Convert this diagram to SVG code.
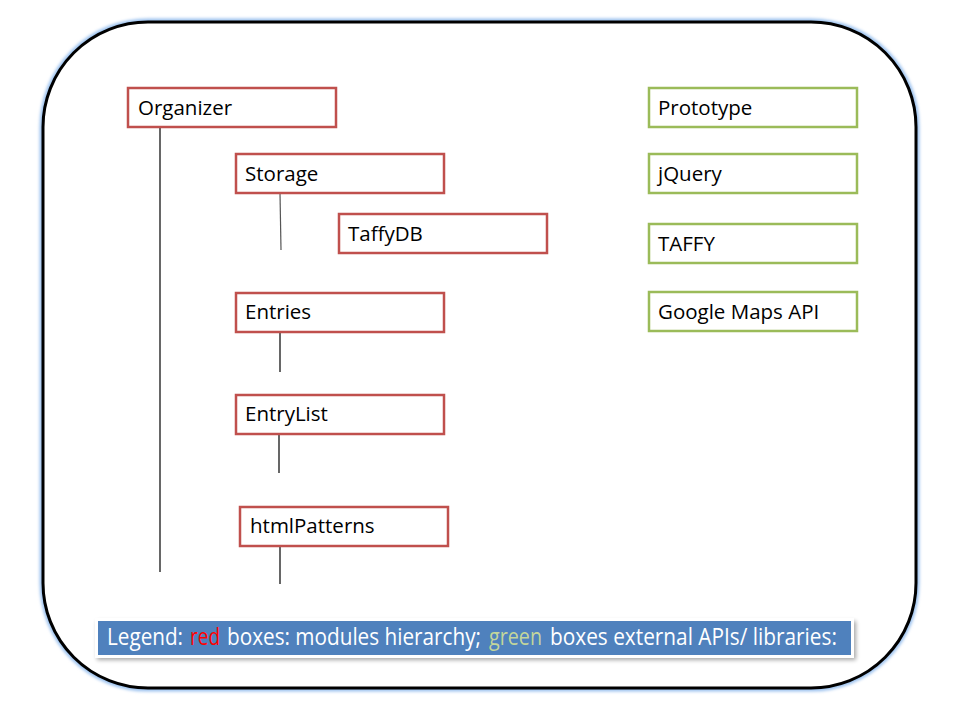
<svg xmlns="http://www.w3.org/2000/svg" width="960" height="720" viewBox="0 0 960 720">
<defs>
<filter id="glow" x="-5%" y="-5%" width="110%" height="110%"><feGaussianBlur stdDeviation="1.5"/></filter>
<filter id="shadow" x="-5%" y="-30%" width="110%" height="160%"><feGaussianBlur stdDeviation="2"/></filter>
</defs>
<style>
.mod rect{fill:#fff;stroke:#C0504D;stroke-width:2.5}
.lib rect{fill:#fff;stroke:#9BBB59;stroke-width:2.5}
text{font-family:"Open Sans","Liberation Sans",sans-serif;font-size:20.5px;fill:#000}
.conn line{stroke:#000;stroke-width:1.2}
.leg{font-family:"Open Sans","Liberation Sans",sans-serif;font-size:23px;fill:#fff}
</style>
<rect width="960" height="720" fill="#fff"/>
<rect x="43" y="22" width="873" height="666" rx="105" ry="105" fill="none" stroke="#9CC2EF" stroke-width="7" filter="url(#glow)"/>
<rect x="43" y="22" width="873" height="666" rx="105" ry="105" fill="#fff" stroke="#000" stroke-width="3"/>
<g class="conn">
<line x1="160" y1="128" x2="160" y2="572"/>
<line x1="280" y1="193" x2="281" y2="250" style="stroke:#555"/>
<line x1="280" y1="332" x2="280" y2="372"/>
<line x1="279" y1="434" x2="279" y2="473"/>
<line x1="280" y1="546" x2="280" y2="584"/>
</g>
<g id="organizer" class="mod"><rect x="128" y="88" width="208" height="39"/><text x="138" y="115">Organizer</text></g>
<g id="storage" class="mod"><rect x="236" y="154" width="208" height="39"/><text x="245" y="181">Storage</text></g>
<g id="taffydb" class="mod"><rect x="339" y="214" width="208" height="39"/><text x="348" y="241">TaffyDB</text></g>
<g id="entries" class="mod"><rect x="236" y="293" width="208" height="39"/><text x="245" y="319">Entries</text></g>
<g id="entrylist" class="mod"><rect x="236" y="395" width="208" height="39"/><text x="245" y="421">EntryList</text></g>
<g id="htmlpatterns" class="mod"><rect x="240" y="507" width="208" height="39"/><text x="250" y="533">htmlPatterns</text></g>
<g id="prototype" class="lib"><rect x="649" y="88" width="208" height="39"/><text x="658" y="115">Prototype</text></g>
<g id="jquery" class="lib"><rect x="649" y="154" width="208" height="39"/><text x="658" y="181">jQuery</text></g>
<g id="taffy" class="lib"><rect x="649" y="224" width="208" height="39"/><text x="658" y="251">TAFFY</text></g>
<g id="googlemaps" class="lib"><rect x="649" y="292" width="208" height="39"/><text x="658" y="319">Google Maps API</text></g>
<g id="legend">
<rect x="97" y="621" width="759" height="39" fill="#000" opacity="0.35" filter="url(#shadow)"/>
<rect x="95" y="618" width="759" height="40" fill="#fff"/>
<rect x="98" y="621" width="753" height="34" fill="#4F81BD"/>
<g transform="scale(0.88,1)">
<text class="leg" x="121.6" y="645" textLength="86.4" lengthAdjust="spacingAndGlyphs">Legend:</text>
<text class="leg" x="215.9" y="645" textLength="34.1" lengthAdjust="spacingAndGlyphs" style="fill:#FF0000">red</text>
<text class="leg" x="258" y="645" textLength="288.6" lengthAdjust="spacingAndGlyphs">boxes: modules hierarchy;</text>
<text class="leg" x="555.7" y="645" textLength="60.2" lengthAdjust="spacingAndGlyphs" style="fill:#C3D69B">green</text>
<text class="leg" x="625" y="645" textLength="326.1" lengthAdjust="spacingAndGlyphs">boxes external APIs/ libraries:</text>
</g>
</g>
</svg>
